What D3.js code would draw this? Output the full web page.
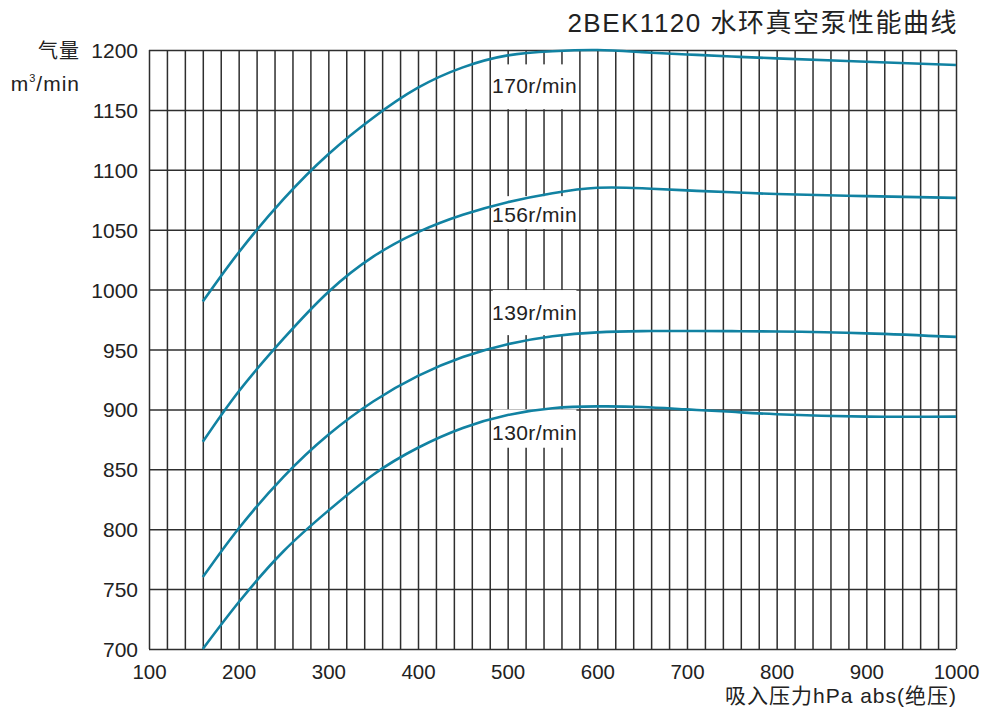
<!DOCTYPE html>
<html>
<head>
<meta charset="utf-8">
<script src="https://cdn.jsdelivr.net/npm/d3@7"></script>
<style>
  html, body { margin: 0; padding: 0; background: #fff; }
  svg { display: block; }
  text { font-family: "Liberation Sans", Arial, "Noto Sans CJK SC", sans-serif; fill: #222; }
  .cjk { font-family: "Liberation Sans", "Noto Sans CJK SC", sans-serif; }
</style>
</head>
<body>
<svg id="chart" width="984" height="709"></svg>
<script>
// Suction pressure (hPa abs) vs. air flow (m³/min) for each shaft speed
const speeds = ["170r/min", "156r/min", "139r/min", "130r/min"];

const pressure = [160, 200, 250, 300, 350, 400, 450, 500, 550, 600, 650, 700, 750, 800, 900, 1000];

const flow170 = [990, 1031, 1075.5, 1113, 1143.5, 1168.5, 1185.5, 1195.5, 1199, 1200, 1198.2, 1196.3, 1194.6, 1193, 1190.2, 1187.5];
const flow156 = [873, 915, 959, 998, 1027.5, 1048, 1062.5, 1073, 1080.5, 1085, 1084.6, 1082.8, 1081.2, 1079.8, 1078, 1076.6];
const flow139 = [760, 800.6, 843.7, 878.8, 906.6, 928, 943.7, 954.4, 961, 964.3, 965.3, 965.5, 965.3, 965, 963.5, 960.5];
const flow130 = [700, 739, 781.6, 815.5, 845.5, 868, 884.5, 895.3, 901, 902.5, 902, 900, 898, 896, 894, 894];

// Label anchor (pressure, flow at baseline) and the flow band cleared behind each label
const labelPressure = [530, 530, 530, 530];
const labelFlow     = [1164, 1056.4, 974.6, 874.4];
const labelBandTop    = [1188, 1078, 999.6, 900];
const labelBandBottom = [1150.6, 1050.6, 962, 868];

const xTickValues = [100, 200, 300, 400, 500, 600, 700, 800, 900, 1000];
const yTickValues = [700, 750, 800, 850, 900, 950, 1000, 1050, 1100, 1150, 1200];
const xGridValues = d3.range(100, 1001, 20);

const title = "2BEK1120 水环真空泵性能曲线";
const xTitle = "吸入压力hPa abs(绝压)";
const yTitle1 = "气量";

const series = [
  { name: speeds[0], q: flow170 },
  { name: speeds[1], q: flow156 },
  { name: speeds[2], q: flow139 },
  { name: speeds[3], q: flow130 }
];

const svg = d3.select("#chart");
const plotLeft = 149, plotRight = 956, plotTop = 50, plotBottom = 649;

const x = d3.scaleLinear().domain([100, 1000]).range([plotLeft, plotRight]);
const y = d3.scaleLinear().domain([700, 1200]).range([plotBottom, plotTop]);

const gridColor = "#2e2e2e";
const curveColor = "#1182a2";

// vertical grid every 20 hPa
const gx = svg.append("g")
  .attr("transform", `translate(0,${plotBottom})`)
  .call(d3.axisBottom(x).tickValues(xGridValues).tickSize(-(plotBottom - plotTop)).tickFormat(""));
gx.select(".domain").remove();
gx.selectAll("line").attr("stroke", gridColor).attr("stroke-width", 1.5);

// horizontal grid every 50 m³/min
const gy = svg.append("g")
  .attr("transform", `translate(${plotLeft},0)`)
  .call(d3.axisLeft(y).tickValues(yTickValues).tickSize(-(plotRight - plotLeft)).tickFormat(""));
gy.select(".domain").remove();
gy.selectAll("line").attr("stroke", gridColor).attr("stroke-width", 1.5);

// white bands behind the speed labels
svg.append("g").selectAll("rect")
  .data(series)
  .join("rect")
  .attr("x", x(480) + 3)
  .attr("width", x(580) - x(480) - 6)
  .attr("y", (d, i) => y(labelBandTop[i]))
  .attr("height", (d, i) => y(labelBandBottom[i]) - y(labelBandTop[i]))
  .attr("fill", "#fff");

// performance curves
const line = d3.line()
  .x(d => x(d[0]))
  .y(d => y(d[1]))
  .curve(d3.curveNatural);

svg.append("g").selectAll("path")
  .data(series)
  .join("path")
  .attr("d", s => line(pressure.map((p, i) => [p, s.q[i]])))
  .attr("fill", "none")
  .attr("stroke", curveColor)
  .attr("stroke-width", 2.6)
  .attr("stroke-linecap", "butt");

// speed labels
svg.append("g").selectAll("text")
  .data(series)
  .join("text")
  .attr("x", (d, i) => x(labelPressure[i]))
  .attr("y", (d, i) => y(labelFlow[i]))
  .attr("text-anchor", "middle")
  .attr("font-size", 21)
  .attr("letter-spacing", 0.4)
  .text(d => d.name);

// axis tick labels
const xl = svg.append("g")
  .attr("transform", `translate(0,${plotBottom})`)
  .call(d3.axisBottom(x).tickValues(xTickValues).tickFormat(d3.format("d")).tickSize(0).tickPadding(0));
xl.select(".domain").remove();
xl.selectAll("text")
  .attr("y", 30)
  .attr("dy", 0)
  .attr("font-size", 20.5)
  .attr("font-family", "Liberation Sans, Arial, sans-serif")
  .attr("fill", "#222");

const yl = svg.append("g")
  .attr("transform", `translate(${plotLeft},0)`)
  .call(d3.axisLeft(y).tickValues(yTickValues).tickFormat(d3.format("d")).tickSize(0).tickPadding(0));
yl.select(".domain").remove();
yl.selectAll("text")
  .attr("x", -11)
  .attr("dy", "0.36em")
  .attr("font-size", 21)
  .attr("font-family", "Liberation Sans, Arial, sans-serif")
  .attr("fill", "#222");

// chart title
svg.append("text")
  .attr("class", "cjk")
  .attr("x", 958)
  .attr("y", 32)
  .attr("text-anchor", "end")
  .attr("font-size", 26)
  .attr("letter-spacing", 1.5)
  .text(title);

// y-axis title
svg.append("text")
  .attr("class", "cjk")
  .attr("x", 80)
  .attr("y", 58)
  .attr("text-anchor", "end")
  .attr("font-size", 20)
  .attr("letter-spacing", 1)
  .text(yTitle1);

const unit = svg.append("text")
  .attr("x", 80)
  .attr("y", 91)
  .attr("text-anchor", "end")
  .attr("font-size", 21)
  .attr("letter-spacing", 1);
unit.append("tspan").text("m");
unit.append("tspan").attr("font-size", 11).attr("dy", -9).text("3");
unit.append("tspan").attr("dy", 9).text("/min");

// x-axis title
svg.append("text")
  .attr("class", "cjk")
  .attr("x", 957)
  .attr("y", 703)
  .attr("text-anchor", "end")
  .attr("font-size", 21)
  .attr("letter-spacing", 1)
  .text(xTitle);
</script>
</body>
</html>
